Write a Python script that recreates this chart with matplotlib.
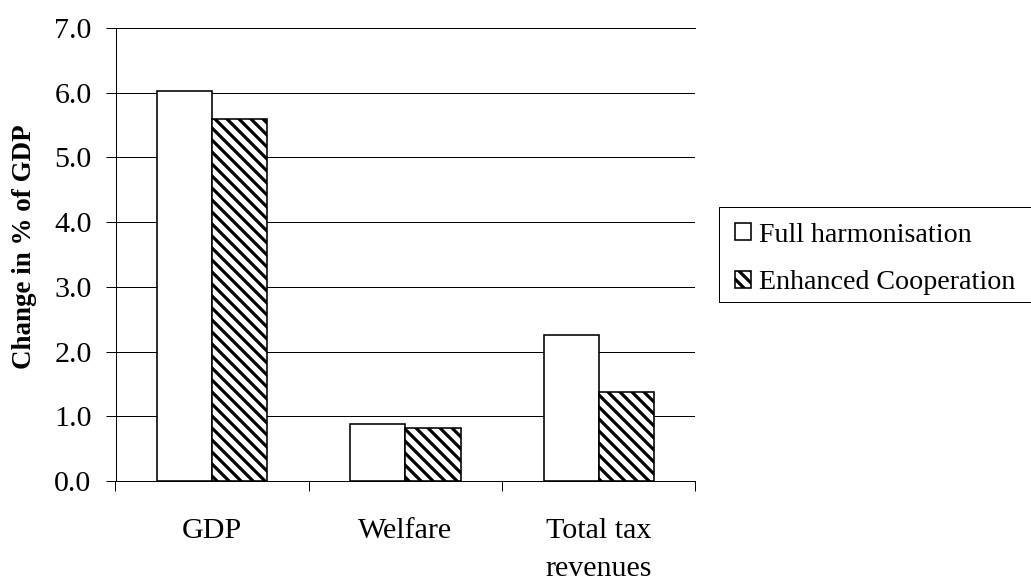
import matplotlib
matplotlib.use("Agg")
import matplotlib.pyplot as plt
from matplotlib.patches import Rectangle
import numpy as np

categories = ["GDP", "Welfare", "Total tax\nrevenues"]
full_harmonisation = [6.03, 0.88, 2.25]
enhanced_cooperation = [5.60, 0.82, 1.37]
series_labels = ["Full harmonisation", "Enhanced Cooperation"]
y_ticks = [0.0, 1.0, 2.0, 3.0, 4.0, 5.0, 6.0, 7.0]

plt.rcParams["font.family"] = ["Liberation Serif", "DejaVu Serif"]
plt.rcParams["hatch.linewidth"] = 3.2
plt.rcParams["hatch.color"] = "black"

W, H, DPI = 1031, 581, 72
fig = plt.figure(figsize=(W / DPI, H / DPI), dpi=DPI)
ax = fig.add_axes([115.5 / W, 1 - 481 / H, 580 / W, 453 / H])

x = np.arange(len(categories))
width = 1 / 3.5
ax.bar(x - width / 2, full_harmonisation, width, facecolor="white",
       edgecolor="black", linewidth=1.6, zorder=3, label=series_labels[0])
ax.bar(x + width / 2, enhanced_cooperation, width, facecolor="white",
       edgecolor="black", linewidth=1.6, hatch="\\\\", zorder=3,
       label=series_labels[1])

ax.set_xlim(-0.5, len(categories) - 0.5)
ax.set_ylim(0, 7)
ax.set_yticks(y_ticks)
ax.set_yticklabels([f"{v:.1f}" for v in y_ticks])
ax.yaxis.grid(True, color="black", linewidth=1.0, zorder=0)
ax.set_axisbelow(True)

ax.spines["right"].set_visible(False)
for side in ("left", "bottom", "top"):
    ax.spines[side].set_color("black")
    ax.spines[side].set_linewidth(1.0)

ax.set_xticks(x)
ax.set_xticklabels(categories, fontsize=30, linespacing=1.6)
ax.set_xticks(np.arange(-0.5, len(categories)), minor=True)
ax.tick_params(axis="x", which="major", length=0, pad=37)
ax.tick_params(axis="x", which="minor", length=10, direction="out",
               width=1.0, color="black")
ax.tick_params(axis="y", length=10, direction="out", width=1.0,
               labelsize=30, pad=14, color="black")

ax.set_ylabel("Change in % of GDP", fontsize=27, fontweight="bold")
ax.yaxis.set_label_coords(-0.135, 0.5166)

# legend box runs past the right edge of the figure
fig.add_artist(Rectangle((719 / W, 1 - 302 / H), (1045 - 719) / W, 95 / H,
                         transform=fig.transFigure, fill=False,
                         edgecolor="black", linewidth=1.0))
fig.legend(loc="upper left", bbox_to_anchor=(719 / W, 1 - 207 / H),
           borderaxespad=0, fontsize=28, frameon=False,
           handlelength=0.57, handleheight=0.57, handletextpad=0.3,
           borderpad=0.56, labelspacing=0.81)

fig.savefig("out.png", dpi=DPI)
